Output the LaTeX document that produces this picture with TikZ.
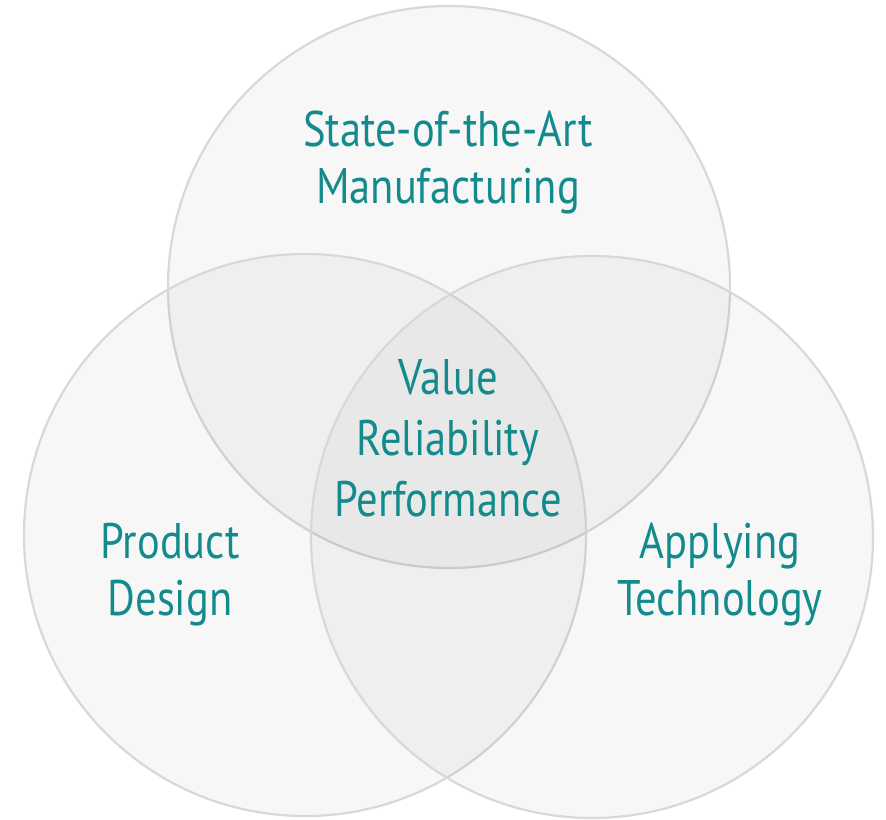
\documentclass[tikz,border=0pt]{standalone}
\usepackage{fontspec}
\setmainfont[FakeStretch=0.85]{PT Sans}
\usepackage{tikz}
\usetikzlibrary{positioning,shapes.geometric}
\definecolor{petrol}{HTML}{138A8C}
\definecolor{rim}{HTML}{D8D8D8}
\tikzset{every picture/.style={line width=0.5pt}}
\tikzstyle{ring}=[circle,draw=rim,line width=1.1pt,fill=black,fill opacity=0.032,draw opacity=1,minimum size=281pt,inner sep=0pt]
\tikzstyle{lbl}=[text=petrol,align=center,font=\fontsize{25}{28.5}\selectfont,text opacity=1]

\begin{document}
\begin{tikzpicture}[x=0.5pt,y=-0.5pt]
\useasboundingbox (0,0) rectangle (886,819);
\node[ring] (mfg) at (449,287) {};
\node[ring] (des) at (305,535) {};
\node[ring] (tech) at (592,537) {};
\node[lbl] (mfgtext) at (448,162) {State-of-the-Art\\Manufacturing};
\node[lbl,font=\fontsize{25}{30.5}\selectfont] (core) at (448,438) {Value\\Reliability\\Performance};
\node[lbl] (destext) at (170,575) {Product\\Design};
\node[lbl] (techtext) at (720,575) {Applying\\Technology};
\end{tikzpicture}
\end{document}
